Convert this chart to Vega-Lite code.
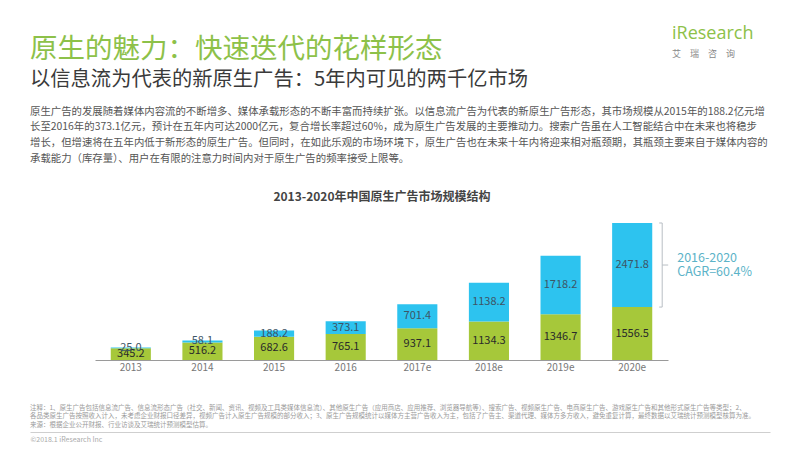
{
  "$schema": "https://vega.github.io/schema/vega-lite/v6.json",
  "background": "white",
  "padding": {"left": 30, "top": 25, "right": 30, "bottom": 0},
  "config": {
    "view": {"stroke": null},
    "font": "Noto Sans CJK SC",
    "title": {"font": "Noto Sans CJK SC", "subtitleFont": "Noto Sans CJK SC"}
  },
  "spacing": 0,
  "vconcat": [
    {
      "spacing": 30,
      "hconcat": [
        {
          "width": 612,
          "height": 0,
          "data": {"values": []},
          "mark": {"type": "text"},
          "encoding": {"text": {"value": ""}},
          "title": {
            "text": "原生的魅力：快速迭代的花样形态",
            "subtitle": "以信息流为代表的新原生广告：5年内可见的两千亿市场",
            "anchor": "start",
            "fontSize": 27.5,
            "fontWeight": "normal",
            "color": "#8dc149",
            "subtitleFontSize": 20.3,
            "subtitleColor": "#3a3a3a",
            "subtitlePadding": 6,
            "offset": -4
          }
        },
        {
          "width": 85,
          "height": 0,
          "data": {"values": []},
          "mark": {"type": "text"},
          "encoding": {"text": {"value": ""}},
          "title": {
            "text": "iResearch",
            "subtitle": "艾　瑞　咨　询",
            "anchor": "start",
            "font": "Open Sans",
            "fontSize": 18,
            "fontWeight": "normal",
            "color": "#8dc149",
            "subtitleFontSize": 9,
            "subtitleColor": "#888888",
            "subtitlePadding": 7,
            "offset": 27
          }
        }
      ]
    },
    {
      "width": 740,
      "height": 0,
      "data": {"values": []},
      "mark": {"type": "text"},
      "encoding": {"text": {"value": ""}},
      "title": {
        "text": [
          "原生广告的发展随着媒体内容流的不断增多、媒体承载形态的不断丰富而持续扩张。以信息流广告为代表的新原生广告形态，其市场规模从2015年的188.2亿元增",
          "长至2016年的373.1亿元，预计在五年内可达2000亿元，复合增长率超过60%，成为原生广告发展的主要推动力。搜索广告虽在人工智能结合中在未来也将稳步",
          "增长，但增速将在五年内低于新形态的原生广告。但同时，在如此乐观的市场环境下，原生广告也在未来十年内将迎来相对瓶颈期，其瓶颈主要来自于媒体内容的",
          "承载能力（库存量）、用户在有限的注意力时间内对于原生广告的频率接受上限等。"
        ],
        "anchor": "start",
        "fontSize": 10.4,
        "fontWeight": "normal",
        "color": "#555555",
        "lineHeight": 15.7,
        "offset": 7
      }
    },
    {
      "width": 740,
      "height": 139,
      "title": {
        "text": "2013-2020年中国原生广告市场规模结构",
        "anchor": "middle",
        "dx": -18,
        "fontSize": 12,
        "fontWeight": "bold",
        "color": "#444444",
        "offset": 17
      },
      "data": {
        "values": [
          {"year": "2013", "type": "其他原生广告", "value": 345.2},
          {"year": "2013", "type": "信息流广告", "value": 25.0},
          {"year": "2014", "type": "其他原生广告", "value": 516.2},
          {"year": "2014", "type": "信息流广告", "value": 58.1},
          {"year": "2015", "type": "其他原生广告", "value": 682.6},
          {"year": "2015", "type": "信息流广告", "value": 188.2},
          {"year": "2016", "type": "其他原生广告", "value": 765.1},
          {"year": "2016", "type": "信息流广告", "value": 373.1},
          {"year": "2017e", "type": "其他原生广告", "value": 937.1},
          {"year": "2017e", "type": "信息流广告", "value": 701.4},
          {"year": "2018e", "type": "其他原生广告", "value": 1134.3},
          {"year": "2018e", "type": "信息流广告", "value": 1138.2},
          {"year": "2019e", "type": "其他原生广告", "value": 1346.7},
          {"year": "2019e", "type": "信息流广告", "value": 1718.2},
          {"year": "2020e", "type": "其他原生广告", "value": 1556.5},
          {"year": "2020e", "type": "信息流广告", "value": 2471.8}
        ]
      },
      "encoding": {
        "x": {
          "field": "year",
          "type": "ordinal",
          "sort": null,
          "scale": {"range": [65, 638], "paddingInner": 0.44, "paddingOuter": 0.22},
          "axis": {
            "title": null,
            "labelFontSize": 10,
            "labelColor": "#777777",
            "labelPadding": 2,
            "labelAngle": 0,
            "ticks": false,
            "grid": false,
            "domainColor": "#9a9a9a",
            "domainWidth": 1,
            "minExtent": 44
          }
        }
      },
      "layer": [
        {
          "mark": {"type": "bar"},
          "encoding": {
            "y": {
              "field": "value",
              "type": "quantitative",
              "stack": "zero",
              "scale": {"domain": [0, 4087], "nice": false},
              "axis": null
            },
            "color": {
              "field": "type",
              "scale": {"domain": ["其他原生广告", "信息流广告"], "range": ["#a6c83a", "#2dc3ef"]},
              "legend": null
            },
            "order": {"field": "type", "sort": "descending"}
          }
        },
        {
          "mark": {"type": "text", "fontSize": 11, "baseline": "middle"},
          "encoding": {
            "y": {"field": "value", "type": "quantitative", "stack": "zero", "bandPosition": 0.5},
            "text": {"field": "value", "type": "quantitative", "format": ".1f"},
            "color": {
              "condition": {"test": "datum.type === '信息流广告'", "value": "#3d5566"},
              "value": "#2a2a2a"
            },
            "order": {"field": "type", "sort": "descending"}
          }
        },
        {
          "data": {"values": [{"year": "2020e", "lo": 1556.5, "hi": 4028.3, "mid": 2792.4, "label": "2016-2020\nCAGR=60.4%"}]},
          "layer": [
            {
              "mark": {"type": "rule", "xOffset": 30, "color": "#b8bec4", "strokeWidth": 1},
              "encoding": {"y": {"field": "lo", "type": "quantitative"}, "y2": {"field": "hi"}}
            },
            {
              "mark": {"type": "rule", "xOffset": 27, "x2Offset": 30, "color": "#b8bec4", "strokeWidth": 1},
              "encoding": {"x2": {"field": "year"}, "y": {"field": "hi", "type": "quantitative"}}
            },
            {
              "mark": {"type": "rule", "xOffset": 27, "x2Offset": 30, "color": "#b8bec4", "strokeWidth": 1},
              "encoding": {"x2": {"field": "year"}, "y": {"field": "lo", "type": "quantitative"}}
            },
            {
              "mark": {"type": "rule", "xOffset": 30, "x2Offset": 36, "color": "#b8bec4", "strokeWidth": 1},
              "encoding": {"x2": {"field": "year"}, "y": {"field": "mid", "type": "quantitative"}}
            },
            {
              "mark": {"type": "text", "align": "left", "baseline": "middle", "xOffset": 45, "dy": -7, "fontSize": 12.5, "color": "#5cb3c8", "lineBreak": "\n", "lineHeight": 14},
              "encoding": {"y": {"field": "mid", "type": "quantitative"}, "text": {"field": "label"}}
            }
          ]
        }
      ]
    },
    {
      "width": 740,
      "height": 1,
      "data": {"values": []},
      "mark": {"type": "text"},
      "encoding": {
        "x": {
          "field": "k",
          "type": "quantitative",
          "scale": {"domain": [0, 1]},
          "axis": {
            "domain": true,
            "domainColor": "#cfcfcf",
            "ticks": false,
            "labels": false,
            "grid": false,
            "title": "©2018.1 iResearch Inc",
            "titleAnchor": "start",
            "titleFontSize": 7,
            "titleFontWeight": "normal",
            "titleColor": "#aaaaaa",
            "titlePadding": 3
          }
        },
        "text": {"value": ""}
      },
      "title": {
        "text": [
          "注释：1、原生广告包括信息流广告、信息流形态广告（社交、新闻、资讯、视频及工具类媒体信息流）、其他原生广告（应用商店、应用推荐、浏览器导航等）、搜索广告、视频原生广告、电商原生广告、游戏原生广告和其他形式原生广告等类型；2、",
          "各品类原生广告按照收入计入，未考虑企业财报口径差异，视频广告计入原生广告规模的部分收入；3、原生广告规模统计以媒体方主营广告收入为主，包括了广告主、渠道代理、媒体方多方收入，避免重复计算，最终数据以艾瑞统计预测模型核算为准。",
          "来源：根据企业公开财报、行业访谈及艾瑞统计预测模型估算。"
        ],
        "anchor": "start",
        "fontSize": 6.5,
        "fontWeight": "normal",
        "color": "#9a9a9a",
        "lineHeight": 8.5,
        "offset": 3
      }
    }
  ]
}
